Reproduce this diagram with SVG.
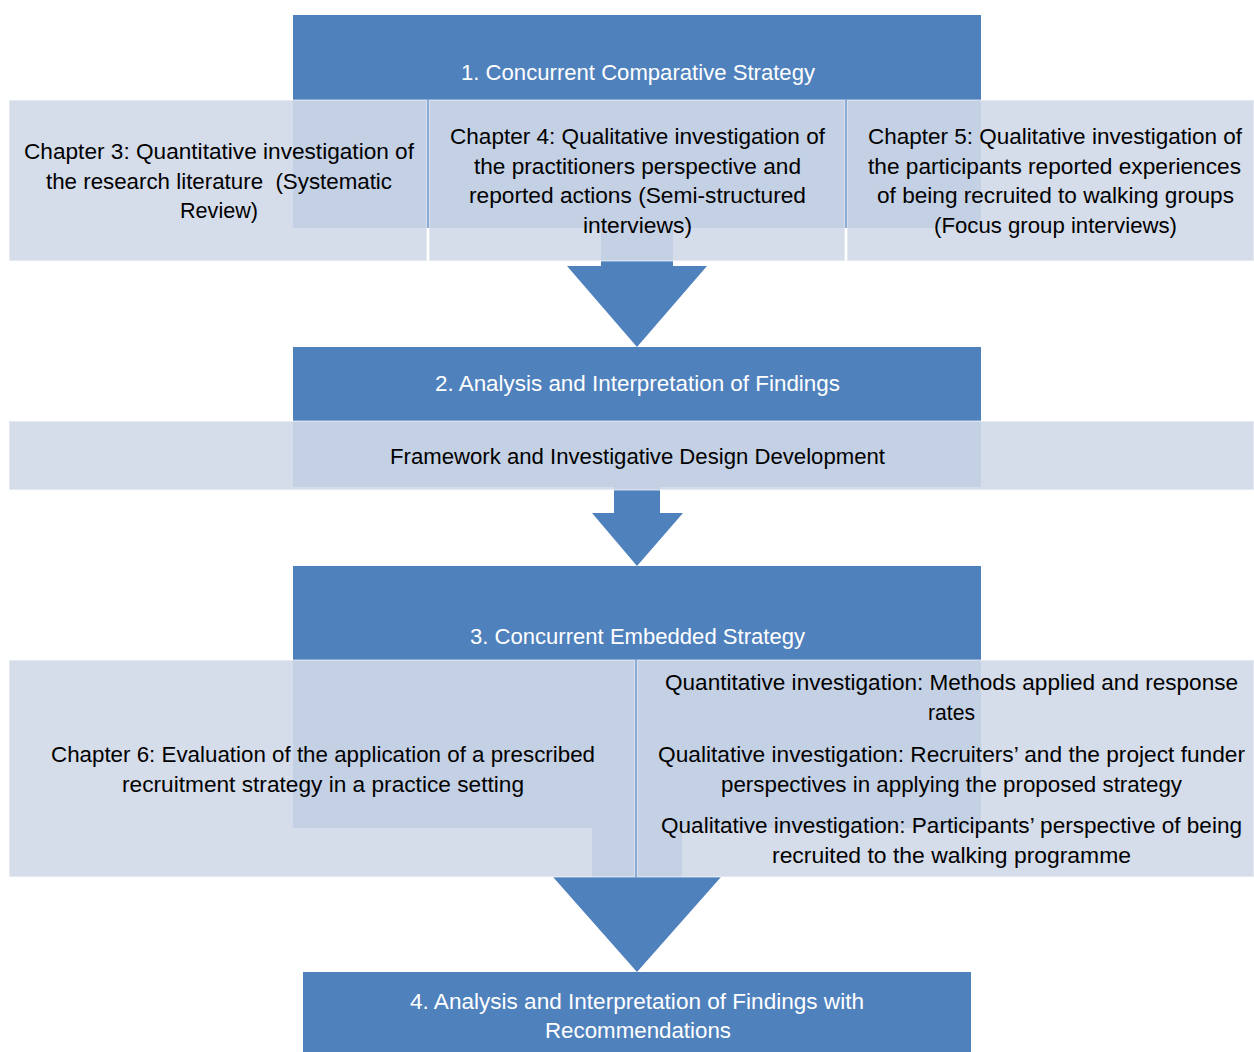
<svg xmlns="http://www.w3.org/2000/svg" width="1254" height="1052" viewBox="0 0 1254 1052">
<style>
.blue{fill:#4F81BD;}
.panel{fill:#D0D8E8;fill-opacity:0.9;stroke:#FFFFFF;stroke-opacity:0.45;stroke-width:1.5;}
.arrow{fill:#4F81BD;}
text{font-family:"Liberation Sans",Arial,sans-serif;font-size:22px;text-anchor:middle;}
.t{fill:#FFFFFF;}
.b{fill:#000000;}
</style>
<rect width="1254" height="1052" fill="#FFFFFF"/>
<g id="stage1">
<rect class="blue" x="293" y="15" width="688" height="213"/>
<text class="t" x="638" y="80" textLength="354" lengthAdjust="spacingAndGlyphs">1. Concurrent Comparative Strategy</text>
</g>
<g id="stage2">
<rect class="blue" x="293" y="347" width="688" height="140"/>
<text class="t" x="637.5" y="391" textLength="405" lengthAdjust="spacingAndGlyphs">2. Analysis and Interpretation of Findings</text>
</g>
<g id="stage3">
<rect class="blue" x="293" y="566" width="688" height="262"/>
<text class="t" x="637.5" y="644" textLength="335" lengthAdjust="spacingAndGlyphs">3. Concurrent Embedded Strategy</text>
</g>
<g id="stage4">
<rect class="blue" x="303" y="972" width="668" height="80"/>
<text class="t" x="637" y="1009" textLength="454" lengthAdjust="spacingAndGlyphs">4. Analysis and Interpretation of Findings with</text>
<text class="t" x="638" y="1038" textLength="186" lengthAdjust="spacingAndGlyphs">Recommendations</text>
</g>
<g id="connectors">
<path class="arrow" d="M601,228 H673 V266 H707 L637,347 L567,266 H601 Z"/>
<path class="arrow" d="M614,487 H660 V513 H683 L637,566 L592,513 H614 Z"/>
<path class="arrow" d="M592,828 H682 V877 H721 L637,972 L553,877 H592 Z"/>
</g>
<g id="panel-ch3">
<rect class="panel" x="9" y="100" width="418" height="161"/>
<text class="b" x="219" y="159" textLength="390" lengthAdjust="spacingAndGlyphs">Chapter 3: Quantitative investigation of</text>
<text class="b" x="219" y="189" textLength="346" lengthAdjust="spacingAndGlyphs" xml:space="preserve">the research literature  (Systematic</text>
<text class="b" x="219" y="218" textLength="78" lengthAdjust="spacingAndGlyphs">Review)</text>
</g>
<g id="panel-ch4">
<rect class="panel" x="429" y="100" width="416" height="161"/>
<text class="b" x="637.5" y="144" textLength="375" lengthAdjust="spacingAndGlyphs">Chapter 4: Qualitative investigation of</text>
<text class="b" x="637.5" y="174" textLength="327" lengthAdjust="spacingAndGlyphs">the practitioners perspective and</text>
<text class="b" x="637.5" y="203" textLength="337" lengthAdjust="spacingAndGlyphs">reported actions (Semi-structured</text>
<text class="b" x="637.5" y="233" textLength="109" lengthAdjust="spacingAndGlyphs">interviews)</text>
</g>
<g id="panel-ch5">
<rect class="panel" x="847" y="100" width="407" height="161"/>
<text class="b" x="1055" y="144" textLength="374" lengthAdjust="spacingAndGlyphs">Chapter 5: Qualitative investigation of</text>
<text class="b" x="1054.5" y="174" textLength="373" lengthAdjust="spacingAndGlyphs">the participants reported experiences</text>
<text class="b" x="1055.5" y="203" textLength="357" lengthAdjust="spacingAndGlyphs">of being recruited to walking groups</text>
<text class="b" x="1055.5" y="233" textLength="243" lengthAdjust="spacingAndGlyphs">(Focus group interviews)</text>
</g>
<g id="panel-framework">
<rect class="panel" x="9" y="421" width="1245" height="69"/>
<text class="b" x="637.5" y="464" textLength="495" lengthAdjust="spacingAndGlyphs">Framework and Investigative Design Development</text>
</g>
<g id="panel-ch6">
<rect class="panel" x="9" y="660" width="626" height="217"/>
<text class="b" x="323" y="762" textLength="544" lengthAdjust="spacingAndGlyphs">Chapter 6: Evaluation of the application of a prescribed</text>
<text class="b" x="323" y="792" textLength="402" lengthAdjust="spacingAndGlyphs">recruitment strategy in a practice setting</text>
</g>
<g id="panel-investigations">
<rect class="panel" x="637" y="660" width="617" height="217"/>
<text class="b" x="951.5" y="690" textLength="573" lengthAdjust="spacingAndGlyphs">Quantitative investigation: Methods applied and response</text>
<text class="b" x="951.5" y="720" textLength="47" lengthAdjust="spacingAndGlyphs">rates</text>
<text class="b" x="951.5" y="762" textLength="587" lengthAdjust="spacingAndGlyphs">Qualitative investigation: Recruiters’ and the project funder</text>
<text class="b" x="951.5" y="792" textLength="461" lengthAdjust="spacingAndGlyphs">perspectives in applying the proposed strategy</text>
<text class="b" x="951.5" y="833" textLength="581" lengthAdjust="spacingAndGlyphs">Qualitative investigation: Participants’ perspective of being</text>
<text class="b" x="951.5" y="863" textLength="359" lengthAdjust="spacingAndGlyphs">recruited to the walking programme</text>
</g>
</svg>
